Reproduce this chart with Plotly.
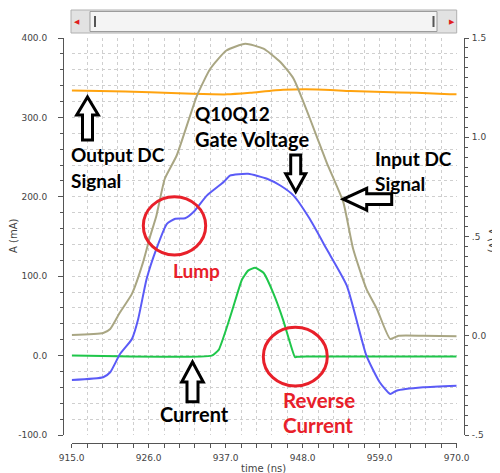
import plotly.graph_objects as go

# ---------------- data ----------------
t_out = [915, 919, 926.2, 932.3, 937.2, 940.5, 945.2, 950, 954.8, 959.5, 964.3, 969, 970]
out_dc_v = [1.236, 1.233, 1.227, 1.219, 1.216, 1.224, 1.239, 1.241, 1.233, 1.228, 1.224, 1.217, 1.216]

t_in = [915, 919.5, 920.5, 921.9, 923.6, 925.2, 926.2, 927.1, 928.3, 930.0, 932.9, 934.8, 937.1,
        939.8, 942.4, 944.8, 946.7, 949.0, 951.4, 953.8, 955.2, 957.1, 958.6, 960.5, 961.7, 965.2, 970]
in_dc_v = [0.004, 0.014, 0.034, 0.118, 0.211, 0.371, 0.50, 0.605, 0.791, 0.908, 1.210, 1.345, 1.437,
           1.471, 1.446, 1.379, 1.295, 1.097, 0.875, 0.673, 0.438, 0.236, 0.135, -0.016, 0.0, 0.0, -0.003]

t_gate = [915, 919.5, 920.5, 921.9, 923.6, 924.5, 925.7, 927.1, 928.6, 929.8, 931.2, 932.4, 934.3,
          936.7, 937.6, 940.2, 942.9, 944.8, 946.7, 949.0, 951.4, 954.3, 957.1, 959.0, 960.5, 961.4,
          965.2, 970]
gate_v = [-0.223, -0.209, -0.184, -0.092, -0.016, 0.085, 0.286, 0.438, 0.564, 0.589, 0.592, 0.623, 0.706,
          0.774, 0.807, 0.816, 0.791, 0.757, 0.706, 0.589, 0.438, 0.253, -0.100, -0.234, -0.293, -0.277,
          -0.260, -0.252]

t_cur = [915, 935.0, 936.0, 937.2, 938.1, 939.3, 940.2, 941.2, 942.4, 943.8, 945.2, 946.2, 946.9, 947.4, 948.5, 970]
current_ma = [0, 0, 7.2, 36.6, 61.8, 95.2, 107, 110.6, 104.3, 78.7, 45.0, 15.8, -2.0, -1.3, -1.0, -1.0]

x_ticks = [915, 926, 937, 948, 959, 970]
x_ticktext = ["915.0", "926.0", "937.0", "948.0", "959.0", "970.0"]
y_ticks = [-100, 0, 100, 200, 300, 400]
y_ticktext = ["-100.0", "0.0", "100.0", "200.0", "300.0", "400.0"]
y2_ticks = [-0.5, 0, 0.5, 1.0, 1.5]
y2_ticktext = ["-.5", "0.0", ".5", "1.0", "1.5"]

# ---------------- layout geometry (screen pixels; page body has an 8px margin) ----------------
OFF = 8
W, H = 500 - OFF, 473 - OFF
SL, ST, SR, SB = 63, 38, 464, 443          # paper box on screen (axis lines)
ML, MT = SL - OFF, ST - OFF
MR, MB = (OFF + W) - SR, (OFF + H) - SB
PW, PH = SR - SL, SB - ST
PX0, PX1 = 71.7, 456.7      # plot area on screen
PY0, PY1 = 38, 435
XD = [(PX0 - SL) / PW, (PX1 - SL) / PW]
YD = [(SB - PY1) / PH, 1.0]
XR = [915, 970]
YR = [-100, 400]


def px2t(px):
    return XR[0] + (px - PX0) * (XR[1] - XR[0]) / (PX1 - PX0)


def py2a(py):
    return YR[0] + (PY1 - py) * (YR[1] - YR[0]) / (PY1 - PY0)


def pxp(px):
    return (px - SL) / PW


def pyp(py):
    return (SB - py) / PH


def path_from_px(pts):
    return "M " + " L ".join(f"{px2t(x):.4f},{py2a(y):.4f}" for x, y in pts) + " Z"


def up_arrow(cx, top, bottom, hw, sw, hh):
    return [(cx, top), (cx + hw / 2, top + hh), (cx + sw / 2, top + hh), (cx + sw / 2, bottom),
            (cx - sw / 2, bottom), (cx - sw / 2, top + hh), (cx - hw / 2, top + hh)]


def down_arrow(cx, top, bottom, hw, sw, hh):
    return [(cx, bottom), (cx + hw / 2, bottom - hh), (cx + sw / 2, bottom - hh), (cx + sw / 2, top),
            (cx - sw / 2, top), (cx - sw / 2, bottom - hh), (cx - hw / 2, bottom - hh)]


def left_arrow(tipx, cy, tailx, hw, sw, hl):
    return [(tipx, cy), (tipx + hl, cy - hw / 2), (tipx + hl, cy - sw / 2), (tailx, cy - sw / 2),
            (tailx, cy + sw / 2), (tipx + hl, cy + sw / 2), (tipx + hl, cy + hw / 2)]


fig = go.Figure()
sm = 0.5
fig.add_trace(go.Scatter(x=t_out, y=out_dc_v, yaxis="y2", mode="lines",
                         line=dict(color="#FFA30F", width=2, shape="spline", smoothing=sm), name="Output DC"))
fig.add_trace(go.Scatter(x=t_in, y=in_dc_v, yaxis="y2", mode="lines",
                         line=dict(color="#A9A683", width=2, shape="spline", smoothing=sm), name="Input DC"))
fig.add_trace(go.Scatter(x=t_gate, y=gate_v, yaxis="y2", mode="lines",
                         line=dict(color="#5B5BF7", width=2, shape="spline", smoothing=sm), name="Gate"))
fig.add_trace(go.Scatter(x=t_cur, y=current_ma, yaxis="y", mode="lines",
                         line=dict(color="#1FC64A", width=2, shape="spline", smoothing=0.4), name="Current"))

tickfont = dict(family="DejaVu Sans", size=9, color="#444444")
grid = dict(showgrid=True, gridcolor="#cfcfcf", griddash="dot", gridwidth=1)

fig.update_layout(
    width=W, height=H, margin=dict(l=ML, r=MR, t=MT, b=MB, pad=0, autoexpand=False),
    paper_bgcolor="white", plot_bgcolor="white", showlegend=False,
    xaxis=dict(domain=XD, range=XR, anchor="free", position=0, tickvals=x_ticks, ticktext=x_ticktext,
               showline=True, linecolor="#555555", linewidth=1, ticks="outside", ticklen=4,
               tickcolor="#555555", tickfont=tickfont, zeroline=False, ticklabelstandoff=2,
               automargin=False,
               minor=dict(dtick=2.2, tick0=915, ticks="outside", ticklen=4, tickcolor="#555555",
                          showgrid=True, gridcolor="#cfcfcf", griddash="dot"),
               **grid),
    yaxis=dict(domain=YD, range=YR, anchor="free", position=0, tickvals=y_ticks, ticktext=y_ticktext,
               showline=True, linecolor="#555555", linewidth=1, ticks="outside", ticklen=5,
               tickcolor="#555555", tickfont=tickfont, zeroline=False, ticklabelstandoff=9,
               automargin=False,
               minor=dict(dtick=20, tick0=0, ticks="outside", ticklen=3, tickcolor="#555555",
                          showgrid=True, gridcolor="#cfcfcf", griddash="dot"),
               **grid),
    yaxis2=dict(domain=YD, range=[-0.5, 1.5], overlaying="y", side="right", anchor="free", position=1,
                tickvals=y2_ticks, ticktext=y2_ticktext, showline=True, linecolor="#555555",
                linewidth=1, ticks="outside", ticklen=4, tickcolor="#555555", tickfont=tickfont,
                zeroline=False, showgrid=False, ticklabelstandoff=1, automargin=False,
                minor=dict(dtick=0.05, tick0=0, ticks="outside", ticklen=3, tickcolor="#555555",
                           showgrid=False)),
)

shapes = []
# red circles
shapes.append(dict(type="circle", xref="x", yref="y", x0=px2t(143.3), x1=px2t(205.7),
                   y0=py2a(255), y1=py2a(196.7), line=dict(color="#E8202A", width=3)))
shapes.append(dict(type="circle", xref="x", yref="y", x0=px2t(263.3), x1=px2t(327.3),
                   y0=py2a(386), y1=py2a(327.3), line=dict(color="#E8202A", width=3)))
# block arrows
for pts in [up_arrow(87.5, 97, 140, 21.6, 10, 18),
            down_arrow(295.7, 155, 191.7, 20, 10, 18),
            left_arrow(343.3, 199.2, 391.7, 21.7, 10.7, 23.4),
            up_arrow(192.5, 362, 401.7, 21.6, 11, 20)]:
    shapes.append(dict(type="path", xref="x", yref="y", path=path_from_px(pts),
                       line=dict(color="black", width=3), fillcolor="white"))

# decorative scroll bar at the top
shapes.append(dict(type="rect", xref="paper", yref="paper", x0=pxp(71), x1=pxp(456.7),
                   y0=pyp(33), y1=pyp(10), fillcolor="#e2e2e2", line=dict(color="#b0b0b0", width=1)))
shapes.append(dict(type="rect", xref="paper", yref="paper", x0=pxp(90), x1=pxp(437),
                   y0=pyp(31.5), y1=pyp(11.5), fillcolor="#f4f4f4", line=dict(color="#9c9c9c", width=1)))
for hx in (94, 432.5):
    shapes.append(dict(type="rect", xref="paper", yref="paper", x0=pxp(hx), x1=pxp(hx + 2),
                       y0=pyp(27), y1=pyp(16), fillcolor="#555555", line=dict(width=0)))
fig.update_layout(shapes=shapes)

ann = []


def txt(text, px, py, size, color="black"):
    ann.append(dict(text=f"<b>{text}</b>", x=pxp(px), y=pyp(py), xref="paper", yref="paper",
                    xanchor="left", yanchor="middle", showarrow=False, borderpad=0,
                    font=dict(family="Lato", size=size, color=color)))


RED = "#E8202A"
txt("Output DC", 70, 154, 19)
txt("Signal", 70, 180, 19)
txt("Q10Q12", 193.5, 113, 19)
txt("Gate Voltage", 193.5, 138.5, 20)
txt("Input DC", 373.5, 158, 19)
txt("Signal", 373.5, 183.5, 19)
txt("Lump", 171.5, 270.5, 19, RED)
txt("Current", 158.5, 414, 20)
txt("Reverse", 281.5, 399.5, 20.5, RED)
txt("Current", 281.5, 425, 20.5, RED)

titlefont = dict(family="DejaVu Sans", size=10, color="#444444")
ann.append(dict(text="A (mA)", x=pxp(13), y=pyp(236), xref="paper", yref="paper", textangle=-90,
                showarrow=False, font=titlefont, xanchor="center", yanchor="middle"))
ann.append(dict(text="V (V)", x=pxp(493), y=pyp(240), xref="paper", yref="paper", textangle=90,
                showarrow=False, font=titlefont, xanchor="center", yanchor="middle"))
ann.append(dict(text="time (ns)", x=pxp(263), y=pyp(461), xref="paper", yref="paper",
                showarrow=False, font=titlefont, xanchor="center", yanchor="top"))
ann.append(dict(text="◀", x=pxp(77), y=pyp(21.5), xref="paper", yref="paper", showarrow=False,
                font=dict(family="DejaVu Sans", size=7, color="#e02020"), xanchor="center", yanchor="middle"))
ann.append(dict(text="▶", x=pxp(451.5), y=pyp(21.5), xref="paper", yref="paper", showarrow=False,
                font=dict(family="DejaVu Sans", size=7, color="#e02020"), xanchor="center", yanchor="middle"))
fig.update_layout(annotations=ann)

fig.write_html("out.html")
